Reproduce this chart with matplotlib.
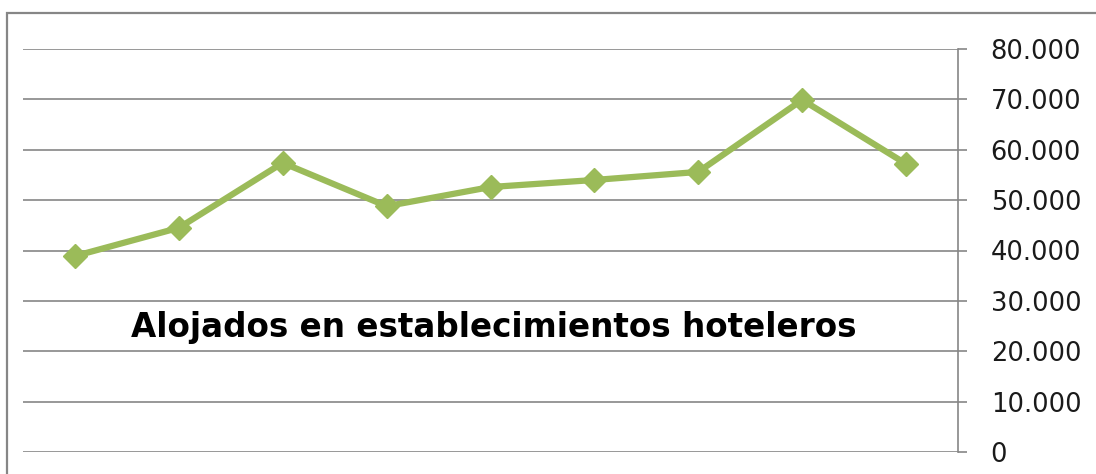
import matplotlib
matplotlib.use("Agg")
import matplotlib.pyplot as plt
from matplotlib.patches import Rectangle
from matplotlib.ticker import FuncFormatter, MultipleLocator

# Data
categories = ["1", "2", "3", "4", "5", "6", "7", "8", "9"]
alojados = [38900, 44500, 57400, 48800, 52600, 54000, 55600, 69900, 57200]
title_text = "Alojados en establecimientos hoteleros"

plt.rcParams["font.family"] = ["DejaVu Sans"]

W, H = 1096, 474
fig = plt.figure(figsize=(W / 100, H / 100), dpi=100)
fig.patch.set_facecolor("white")

# outer chart frame (top and left visible, extends beyond the picture)
frame = Rectangle((7 / W, -0.1), 1.2, (H - 13) / H + 0.1, transform=fig.transFigure,
                  fill=False, edgecolor="#868686", linewidth=1.6, clip_on=False)
fig.patches.append(frame)

ax = fig.add_axes([23 / W, (H - 452) / H, 935 / W, 403 / H])
x = list(range(len(categories)))
ax.plot(x, alojados, color="#9BBB59", linewidth=4.5, marker="D", markersize=12.5,
        markerfacecolor="#9BBB59", markeredgecolor="#9BBB59", zorder=3,
        solid_joinstyle="round")

ax.set_xlim(-0.5, len(categories) - 0.5)
ax.set_ylim(0, 80000)
ax.yaxis.set_major_locator(MultipleLocator(10000))
ax.yaxis.set_major_formatter(FuncFormatter(lambda v, p: f"{int(v):,}".replace(",", ".")))
ax.yaxis.tick_right()
ax.tick_params(axis="y", direction="out", length=6.5, width=1.2, color="#868686",
               pad=17, labelsize=18.5, labelcolor="#1a1a1a")
ax.set_xticks([])
for s in ["left", "top", "bottom"]:
    ax.spines[s].set_visible(False)
ax.spines["right"].set_color("#868686")
ax.spines["right"].set_linewidth(1.2)
ax.grid(axis="y", color="#868686", linewidth=1.2)
ax.set_axisbelow(True)

ax.text(0.503, 0.31, title_text, transform=ax.transAxes, ha="center", va="center",
        fontsize=23.5, fontweight="bold", family="DejaVu Sans", color="black")

fig.savefig("out.png", dpi=100)
